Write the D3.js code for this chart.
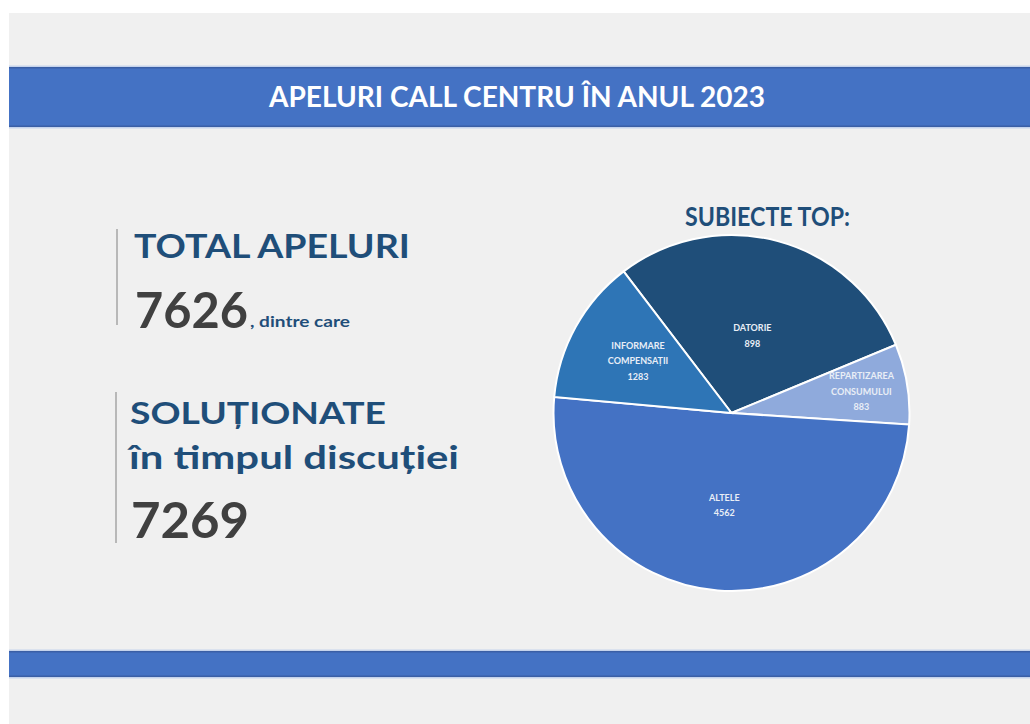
<!DOCTYPE html>
<html>
<head>
<meta charset="utf-8">
<script src="https://cdn.jsdelivr.net/npm/d3@7"></script>
<style>
  html, body { margin: 0; padding: 0; background: #ffffff; }
  svg { display: block; }
  text { font-family: Lato, "Open Sans", sans-serif; font-weight: bold; }
</style>
</head>
<body>
<svg id="chart" width="1030" height="724"></svg>
<script>
// ---------- data ----------
const title = "APELURI CALL CENTRU ÎN ANUL 2023";
const totalLabel = "TOTAL APELURI";
const totalValue = 7626;
const totalSuffix = ", dintre care";
const solvedLabel1 = "SOLUȚIONATE";
const solvedLabel2 = "în timpul discuției";
const solvedValue = 7269;
const pieTitle = "SUBIECTE TOP:";

const categories = ["DATORIE", "REPARTIZAREA CONSUMULUI", "ALTELE", "INFORMARE COMPENSAȚII"];
const labelLines = [["DATORIE"], ["REPARTIZAREA", "CONSUMULUI"], ["ALTELE"], ["INFORMARE", "COMPENSAȚII"]];
const labelValues = [898, 883, 4562, 1283];
// slice sizes as drawn in the picture (percent of the circle)
const sliceShare = [29.1, 7.3, 50.4, 13.2];

// ---------- layout / style ----------
const W = 1030, H = 724;
const svg = d3.select("#chart");
const darkBlue = "#1f4e79";
const numGray = "#404040";
const barBlue = "#4472c4";
const sliceColors = ["#1f4e79", "#8faadc", "#4472c4", "#2e75b6"];
const labelRadiusFactor = [0.45, 0.74, 0.52, 0.6];

// background panel
svg.append("rect").attr("x", 9).attr("y", 13).attr("width", W - 9).attr("height", H - 13).attr("fill", "#f0f0f0");

// bars
function bar(y, h) {
  svg.append("rect").attr("x", 9).attr("y", y - 1.5).attr("width", W - 9).attr("height", h + 3).attr("fill", "#c5d3ec");
  svg.append("rect").attr("x", 9).attr("y", y).attr("width", W - 9).attr("height", h).attr("fill", barBlue);
  svg.append("rect").attr("x", 9).attr("y", y).attr("width", W - 9).attr("height", 1.5).attr("fill", "#3a5fa6");
  svg.append("rect").attr("x", 9).attr("y", y + h - 1.5).attr("width", W - 9).attr("height", 1.5).attr("fill", "#3a5fa6");
}
bar(67, 60);
bar(651, 26);

svg.append("text").attr("x", 269).attr("y", 107)
  .attr("font-size", 28).attr("fill", "#ffffff")
  .attr("textLength", 496).attr("lengthAdjust", "spacingAndGlyphs")
  .text(title);

// left side
svg.append("line").attr("x1", 117).attr("x2", 117).attr("y1", 229).attr("y2", 325)
  .attr("stroke", "#a6a6a6").attr("stroke-width", 1.5);
svg.append("line").attr("x1", 116).attr("x2", 116).attr("y1", 392).attr("y2", 543)
  .attr("stroke", "#a6a6a6").attr("stroke-width", 1.5);

svg.append("text").attr("x", 134).attr("y", 258).attr("font-size", 32).attr("fill", darkBlue)
  .attr("textLength", 276).attr("lengthAdjust", "spacingAndGlyphs").text(totalLabel);
svg.append("text").attr("x", 135).attr("y", 328).attr("font-size", 50).attr("fill", numGray)
  .attr("textLength", 113).attr("lengthAdjust", "spacingAndGlyphs").text(d3.format("d")(totalValue));
svg.append("text").attr("x", 250).attr("y", 327).attr("font-size", 16).attr("fill", darkBlue)
  .attr("textLength", 100).attr("lengthAdjust", "spacingAndGlyphs").text(totalSuffix);

svg.append("text").attr("x", 130).attr("y", 424).attr("font-size", 31).attr("fill", darkBlue)
  .attr("textLength", 256).attr("lengthAdjust", "spacingAndGlyphs").text(solvedLabel1);
svg.append("text").attr("x", 129).attr("y", 469).attr("font-size", 32).attr("fill", darkBlue)
  .attr("textLength", 330).attr("lengthAdjust", "spacingAndGlyphs").text(solvedLabel2);
svg.append("text").attr("x", 131).attr("y", 538).attr("font-size", 50).attr("fill", numGray)
  .attr("textLength", 118).attr("lengthAdjust", "spacingAndGlyphs").text(d3.format("d")(solvedValue));

// pie
svg.append("text").attr("x", 685).attr("y", 226).attr("font-size", 27).attr("fill", darkBlue)
  .attr("textLength", 165).attr("lengthAdjust", "spacingAndGlyphs").text(pieTitle);

const cx = 731.5, cy = 413, R = 178;
const startDeg = -37.3;
const pie = d3.pie().sort(null).value(d => d)
  .startAngle(startDeg * Math.PI / 180)
  .endAngle((startDeg + 360) * Math.PI / 180);
const arcs = pie(sliceShare);
const arc = d3.arc().innerRadius(0).outerRadius(R);

const g = svg.append("g").attr("transform", `translate(${cx},${cy})`);
g.selectAll("path.slice").data(arcs).join("path")
  .attr("class", "slice")
  .attr("d", arc)
  .attr("fill", (d, i) => sliceColors[i])
  .attr("stroke", "#ffffff").attr("stroke-width", 2);

const lineH = 15.5;
arcs.forEach((a, i) => {
  const rr = R * labelRadiusFactor[i];
  const lab = d3.arc().innerRadius(rr).outerRadius(rr).centroid(a);
  const lines = labelLines[i].concat([String(labelValues[i])]);
  const y0 = lab[1] - (lines.length - 1) * lineH / 2;
  const t = g.append("text").attr("text-anchor", "middle")
    .attr("font-size", 9).attr("fill", "#e9eef6");
  lines.forEach((ln, k) => {
    t.append("tspan").attr("x", lab[0]).attr("y", y0 + k * lineH).attr("dy", "0.35em").text(ln);
  });
});
</script>
</body>
</html>
